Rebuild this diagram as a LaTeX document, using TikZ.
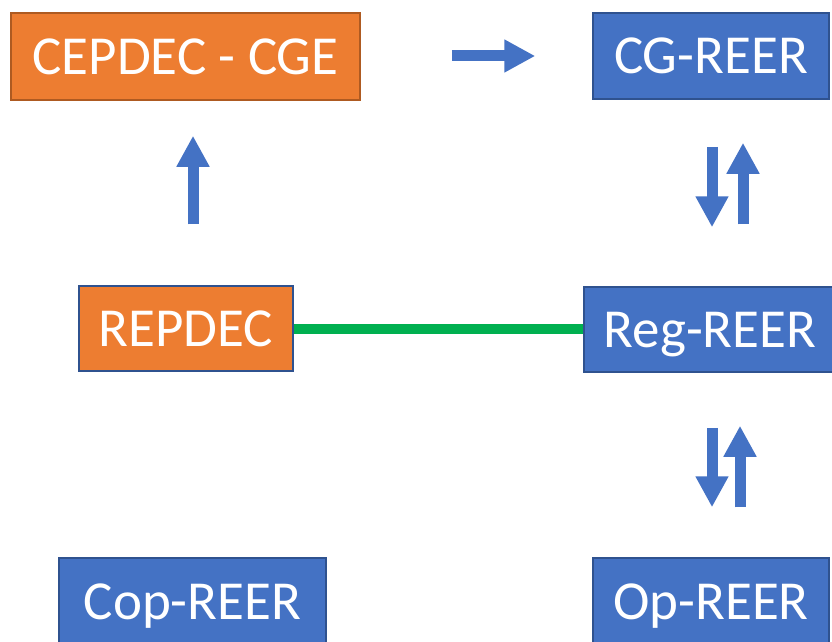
\documentclass[tikz,border=0pt]{standalone}
\usepackage{fontspec}
\setmainfont{Carlito}
\usetikzlibrary{arrows.meta}
\definecolor{boxorange}{HTML}{ED7D31}
\definecolor{borderorange}{HTML}{AE5A21}
\definecolor{boxblue}{HTML}{4472C4}
\definecolor{borderblue}{HTML}{2F528F}
\definecolor{linkgreen}{HTML}{00B050}
\tikzset{
  box/.style={draw, line width=1.5pt, text=white, inner sep=0pt,
    font=\fontsize{55}{60}\selectfont, text height=35.4pt, text depth=0pt},
  orangebox/.style={box, fill=boxorange, draw=borderorange},
  bluebox/.style={box, fill=boxblue, draw=borderblue},
  blockarrow/.style={boxblue, line width=11pt, -{Triangle[width=31pt,length=31pt]}},
}
\begin{document}
\begin{tikzpicture}[x=1pt,y=-1pt]
\useasboundingbox (0,0) rectangle (832,642);
%%% The boxes of the scheme
\node[orangebox, minimum width=349pt, minimum height=87pt] (cepdec) at (185.5,56.5) {CEPDEC - CGE};
\node[bluebox, minimum width=236pt, minimum height=86pt] (cgreer) at (711,56) {CG-REER};
\node[orangebox, draw=borderblue, minimum width=214pt, minimum height=85pt] (repdec) at (186,328.5) {REPDEC};
\node[bluebox, minimum width=252pt, minimum height=85pt] (regreer) at (710,329.5) {Reg-REER};
\node[bluebox, minimum width=267pt, minimum height=88pt] (copreer) at (192.5,602) {Cop-REER};
\node[bluebox, minimum width=236pt, minimum height=88pt] (opreer) at (711,602) {Op-REER};
%%% The link and the arrows between them
\draw[linkgreen, line width=10pt] (repdec.east) -- (repdec.east -| regreer.west);
\draw[blockarrow, shorten <=91pt, shorten >=57pt] ([yshift=0.5pt]cepdec.east) -- (cgreer.west);
\draw[blockarrow, shorten <=61pt, shorten >=35pt] ([xshift=7pt]repdec.north) -- ([xshift=7.5pt]cepdec.south);
\draw[blockarrow, shorten <=47pt, shorten >=59pt] ([xshift=1pt]cgreer.south) -- ([xshift=2pt]regreer.north);
\draw[blockarrow, shorten <=62pt, shorten >=43pt] ([xshift=33pt]regreer.north) -- ([xshift=32pt]cgreer.south);
\draw[blockarrow, shorten <=55pt, shorten >=50pt] ([xshift=2pt]regreer.south) -- ([xshift=1pt]opreer.north);
\draw[blockarrow, shorten <=50pt, shorten >=53pt] ([xshift=29pt]opreer.north) -- ([xshift=30pt]regreer.south);
\end{tikzpicture}
\end{document}
